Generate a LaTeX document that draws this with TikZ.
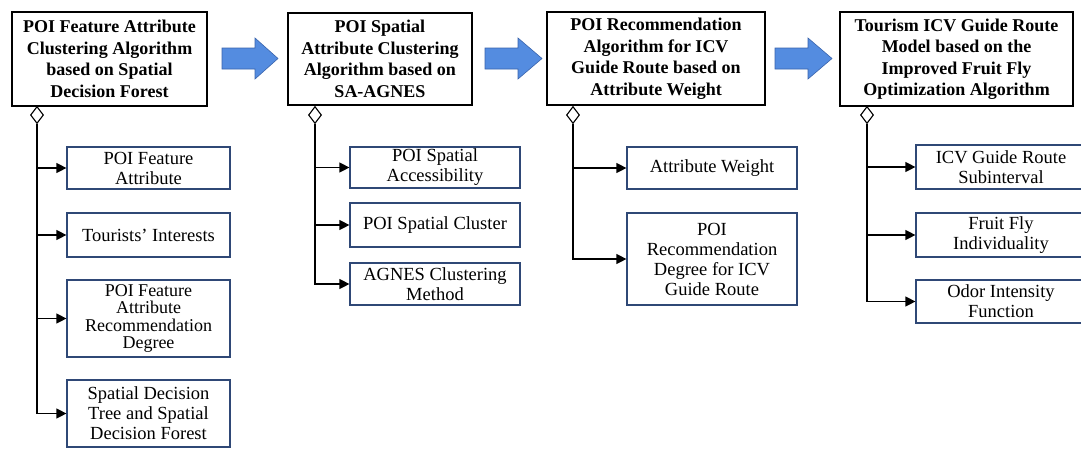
\documentclass[tikz,border=0pt]{standalone}
\usepackage{fontspec}
\setmainfont{Liberation Serif}
\usetikzlibrary{arrows.meta,shapes.geometric}
\definecolor{arrowfill}{RGB}{84,140,224}
\definecolor{arrowline}{RGB}{58,100,172}
\definecolor{subline}{RGB}{47,72,118}
\begin{document}
\begin{tikzpicture}[x=1pt,y=-1pt,
  title/.style={draw=black,line width=1.4pt,fill=white,align=center,inner sep=0pt,
    font=\fontsize{18}{21.5}\selectfont\bfseries},
  sub/.style={draw=subline,line width=1.2pt,fill=white,align=center,inner sep=0pt,
    font=\fontsize{18.5}{20}\selectfont},
  agg/.style={shape=diamond,draw=black,line width=1.1pt,fill=white,
    minimum width=13pt,minimum height=17pt,inner sep=0pt},
  link/.style={line width=1.2pt,-{Triangle[length=10pt,width=10pt]}},
  flow/.style={fill=arrowfill,draw=arrowline,line width=0.6pt}]
\path[use as bounding box] (0,0) rectangle (1081,448);
\clip (0,0) rectangle (1081,448);

% process arrows between the stages
\foreach \xa/\xb/\xc in {222/255/278, 485/518/542, 775/808/832}
  \path[flow] (\xa,48) -- (\xb,48) -- (\xb,38) -- (\xc,58.5) -- (\xb,79) -- (\xb,69) -- (\xa,69) -- cycle;

% stage boxes
\node[title,minimum width=195pt,minimum height=94pt] (t1) at (109.5,59)
  {POI Feature Attribute\\Clustering Algorithm\\based on Spatial\\Decision Forest};
\node[title,minimum width=184pt,minimum height=92pt] (t2) at (380,59)
  {POI Spatial\\Attribute Clustering\\Algorithm based on\\SA-AGNES};
\node[title,minimum width=218pt,minimum height=93pt] (t3) at (656,58.5)
  {POI Recommendation\\Algorithm for ICV\\Guide Route based on\\Attribute Weight};
\node[title,minimum width=233pt,minimum height=94pt] (t4) at (956.5,59)
  {Tourism ICV Guide Route\\Model based on the\\Improved Fruit Fly\\Optimization Algorithm};

% aggregation diamonds
\node[agg] (d1) at (37,115) {};
\node[agg] (d2) at (315,115) {};
\node[agg] (d3) at (573,115) {};
\node[agg] (d4) at (867,115) {};

% stage 1 components
\node[sub,minimum width=163pt,minimum height=42pt] (c11) at (148.5,168) {POI Feature\\Attribute};
\node[sub,minimum width=163pt,minimum height=44pt] (c12) at (148.5,235) {Tourists’ Interests};
\node[sub,minimum width=163pt,minimum height=77pt,font=\fontsize{18}{17.5}\selectfont] (c13) at (148.5,318.5)
  {POI Feature\\Attribute\\Recommendation\\Degree};
\node[sub,minimum width=163pt,minimum height=67pt] (c14) at (148.5,413.5)
  {Spatial Decision\\Tree and Spatial\\Decision Forest};

% stage 2 components
\node[sub,minimum width=170pt,minimum height=41pt] (c21) at (435,167.5) {POI Spatial\\Accessibility};
\node[sub,minimum width=170pt,minimum height=44pt] (c22) at (435,225) {POI Spatial Cluster};
\node[sub,minimum width=170pt,minimum height=42pt] (c23) at (435,284) {AGNES Clustering\\Method};

% stage 3 components
\node[sub,minimum width=170pt,minimum height=42pt] (c31) at (712,168) {Attribute Weight};
\node[sub,minimum width=170pt,minimum height=92pt] (c32) at (712,259)
  {POI\\Recommendation\\Degree for ICV\\Guide Route};

% stage 4 components
\node[sub,minimum width=170pt,minimum height=44pt] (c41) at (1001,167) {ICV Guide Route\\Subinterval};
\node[sub,minimum width=170pt,minimum height=44pt] (c42) at (1001,235) {Fruit Fly\\Individuality};
\node[sub,minimum width=170pt,minimum height=43pt] (c43) at (1001,301.5) {Odor Intensity\\Function};

% composition links
\draw[link] (d1.south) |- (c14.west);
\foreach \c in {c11,c12,c13} \draw[link] (d1.south |- \c.west) -- (\c.west);
\draw[link] (d2.south) |- (c23.west);
\foreach \c in {c21,c22} \draw[link] (d2.south |- \c.west) -- (\c.west);
\draw[link] (d3.south) |- (c32.west);
\draw[link] (d3.south |- c31.west) -- (c31.west);
\draw[link] (d4.south) |- (c43.west);
\foreach \c in {c41,c42} \draw[link] (d4.south |- \c.west) -- (\c.west);
\end{tikzpicture}
\end{document}
